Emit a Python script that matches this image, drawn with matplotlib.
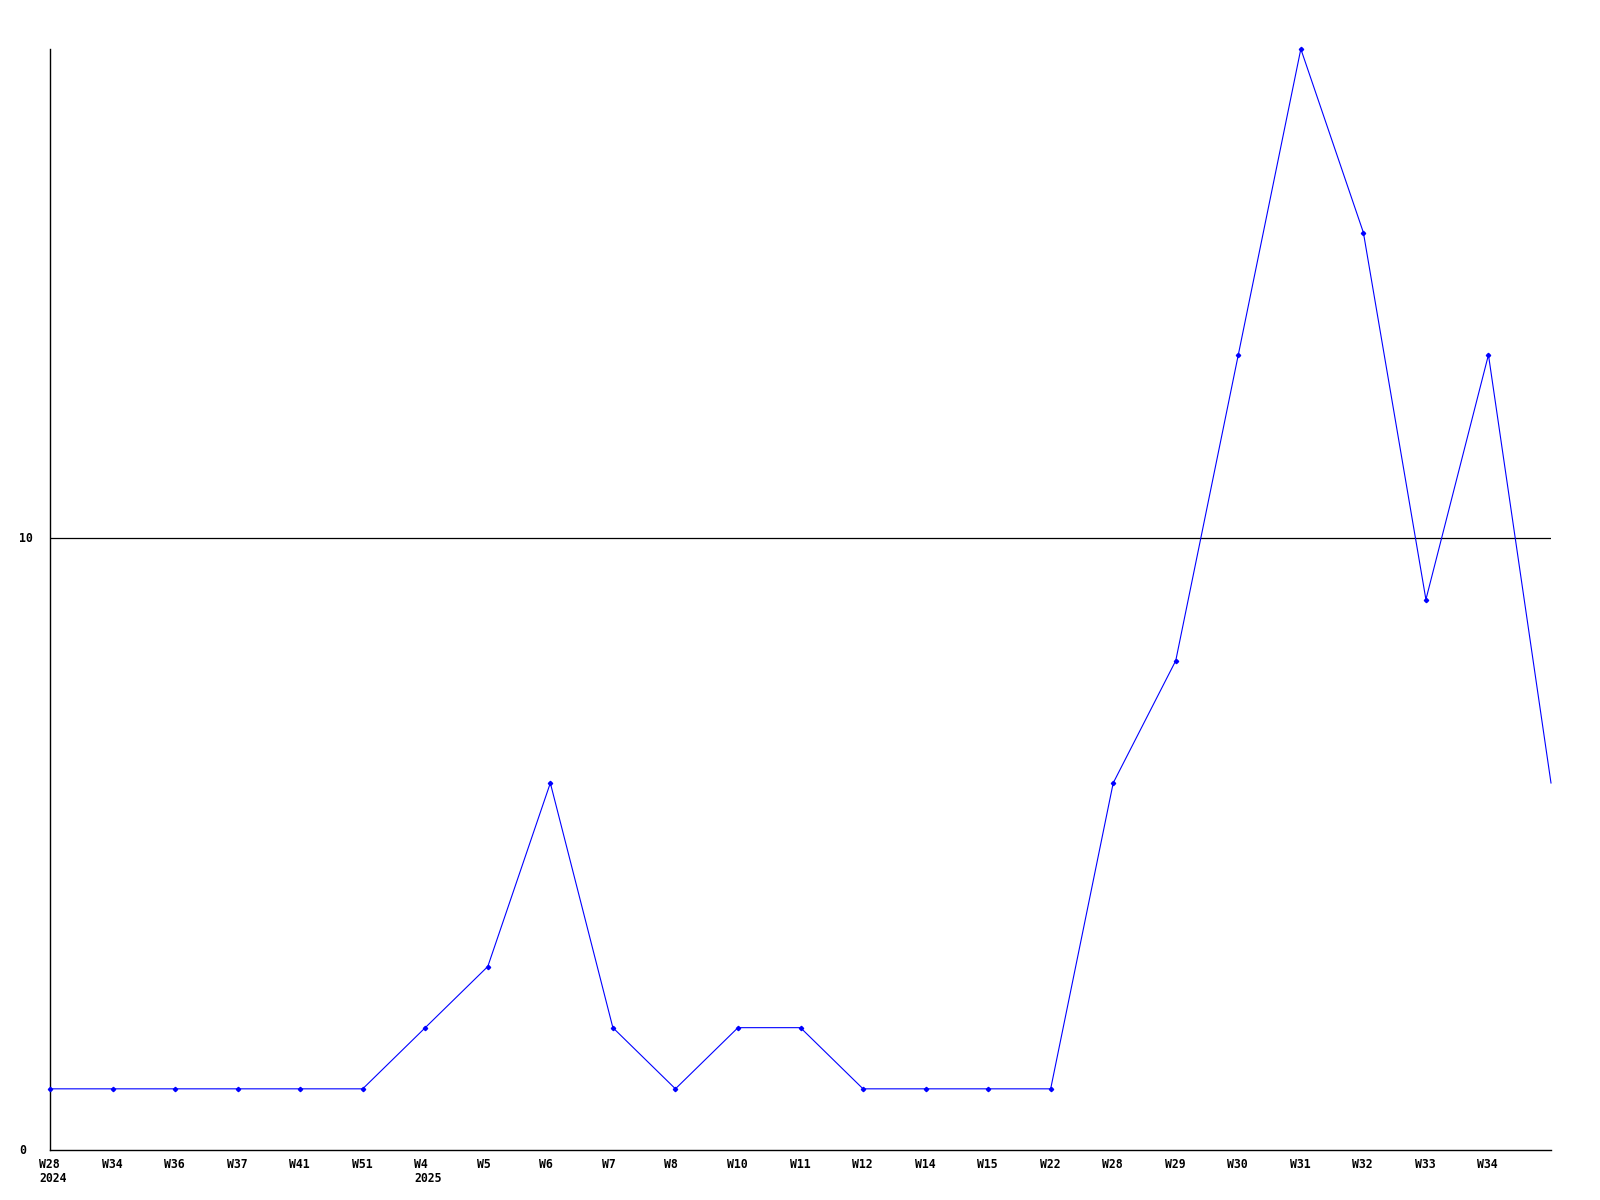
import matplotlib
matplotlib.use('Agg')
import matplotlib.pyplot as plt

# weekly counts, last point sits on the right edge without a label
WEEKS = ['W28', 'W34', 'W36', 'W37', 'W41', 'W51', 'W4', 'W5', 'W6', 'W7', 'W8', 'W10',
         'W11', 'W12', 'W14', 'W15', 'W22', 'W28', 'W29', 'W30', 'W31', 'W32', 'W33', 'W34', '']
YEARS = {0: '2024', 6: '2025'}
COUNTS = [1, 1, 1, 1, 1, 1, 2, 3, 6, 2, 1, 2, 2, 1, 1, 1, 1, 6, 8, 13, 18, 15, 9, 13, 6]
Y_LABELS = [0, 10]

FONT = dict(family='DejaVu Sans Mono', weight='bold', size=8.3)

fig = plt.figure(figsize=(16, 12), dpi=100)
ax = fig.add_axes([50 / 1600, 50 / 1200, 1501 / 1600, 1101 / 1200])

x = list(range(len(COUNTS)))
ax.plot(x, COUNTS, color='#0000ff', lw=0.8, clip_on=False, zorder=3)
ax.plot(x[:-1], COUNTS[:-1], ls='none', marker='D', ms=2.2, color='#0000ff', clip_on=False, zorder=4)
ax.axhline(10, color='black', lw=0.9, zorder=2)

ax.set_xlim(0, len(COUNTS) - 1)
ax.set_ylim(0, 18)
ax.set_xticks([])
ax.set_yticks([])
for s in ['top', 'right']:
    ax.spines[s].set_visible(False)
for s in ['left', 'bottom']:
    ax.spines[s].set_color('black')
    ax.spines[s].set_linewidth(1)

for i, w in enumerate(WEEKS):
    label = w
    if i in YEARS:
        label = w + '\n' + YEARS[i]
    ax.annotate(label, xy=(i, 0), xycoords=('data', 'axes fraction'),
                xytext=(-11, -8), textcoords='offset pixels',
                ha='left', va='top', linespacing=1.1, **FONT)

for v in Y_LABELS:
    ax.annotate(str(v), xy=(0, v), xycoords=('axes fraction', 'data'),
                xytext=(-31, 0), textcoords='offset pixels',
                ha='left', va='center', **FONT)

fig.savefig('out.png', dpi=100)
